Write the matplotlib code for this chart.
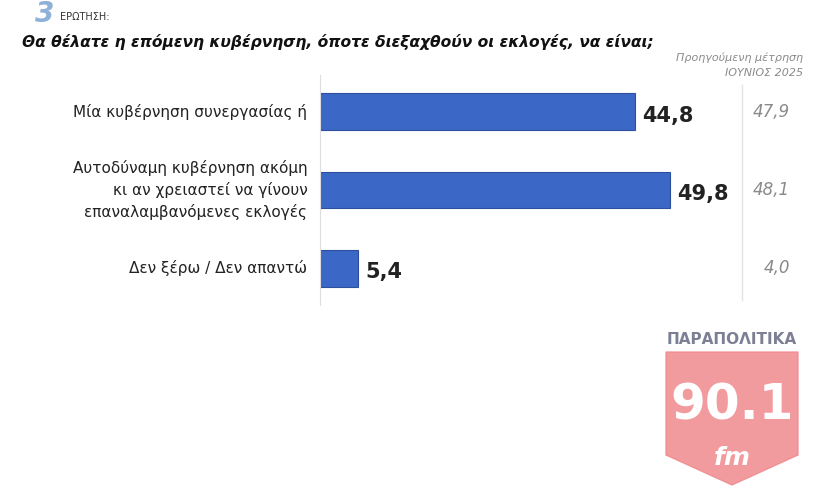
import matplotlib.pyplot as plt
from matplotlib.patches import Polygon

categories = ['Μία κυβέρνηση συνεργασίας ή',
              'Αυτοδύναμη κυβέρνηση ακόμη\nκι αν χρειαστεί να γίνουν\nεπαναλαμβανόμενες εκλογές',
              'Δεν ξέρω / Δεν απαντώ']
values = [44.8, 49.8, 5.4]
previous = ['47,9', '48,1', '4,0']

fig = plt.figure(figsize=(8.3, 4.88), dpi=100)
W, H = 830, 488
ax = fig.add_axes([320 / W, 1 - 305 / H, 422 / W, 230 / H])
ypos = list(range(len(values)))
ax.barh(ypos, values, height=0.47, color='#3B67C6', edgecolor='#2C4F9E', linewidth=0.8)
ax.set_xlim(0, 60)
ax.set_ylim(2.47, -0.47)
for y, v in zip(ypos, values):
    ax.text(v + 1.0, y + 0.05, f'{v:.1f}'.replace('.', ','), va='center', ha='left',
            fontsize=15, fontweight='bold', color='#222222')
for y, c in zip(ypos, categories):
    ax.text(-1.8, y, c, va='center', ha='right', fontsize=11, color='#222222',
            linespacing=1.45)
ax.set_xticks([])
ax.set_yticks([])
for s in ['top', 'right', 'bottom']:
    ax.spines[s].set_visible(False)
ax.spines['left'].set_color('#dddddd')

# previous measurement column
fig.add_artist(plt.Line2D([742 / W, 742 / W], [1 - 85 / H, 1 - 300 / H], color='#e3e3e3', lw=1))
for y, p in zip([112, 190, 268], previous):
    fig.text(790 / W, 1 - y / H, p, ha='right', va='center', fontsize=12,
             style='italic', color='#8a8a8a')
fig.text(803 / W, 1 - 58 / H, 'Προηγούμενη μέτρηση', ha='right', va='center',
         fontsize=8, style='italic', color='#8a8a8a')
fig.text(803 / W, 1 - 73 / H, 'ΙΟΥΝΙΟΣ 2025', ha='right', va='center',
         fontsize=8, style='italic', color='#8a8a8a')

# header
fig.text(35 / W, 1 - 14 / H, '3', fontsize=20, fontweight='bold', style='italic',
         color='#8fb0d8', va='center')
fig.text(60 / W, 1 - 17 / H, 'ΕΡΩΤΗΣΗ:', fontsize=7, color='#333333', va='center')
fig.text(22 / W, 1 - 42 / H, 'Θα θέλατε η επόμενη κυβέρνηση, όποτε διεξαχθούν οι εκλογές, να είναι;',
         fontsize=11.2, fontweight='bold', style='italic', color='#111111', va='center')

# logo
fig.add_artist(Polygon([(666 / W, 1 - 352 / H), (798 / W, 1 - 352 / H),
                        (798 / W, 1 - 455 / H), (732 / W, 1 - 485 / H),
                        (666 / W, 1 - 455 / H)], closed=True,
                       transform=fig.transFigure, color='#f08a8e', alpha=0.85))
fig.text(732 / W, 1 - 340 / H, 'ΠΑΡΑΠΟΛΙΤΙΚΑ', ha='center', va='center', fontsize=11,
         fontweight='bold', color='#7d7f95')
fig.text(732 / W, 1 - 405 / H, '90.1', ha='center', va='center', fontsize=36,
         fontweight='bold', color='white')
fig.text(732 / W, 1 - 458 / H, 'fm', ha='center', va='center', fontsize=18,
         fontweight='bold', style='italic', color='white')

fig.savefig('out.png', dpi=100)
